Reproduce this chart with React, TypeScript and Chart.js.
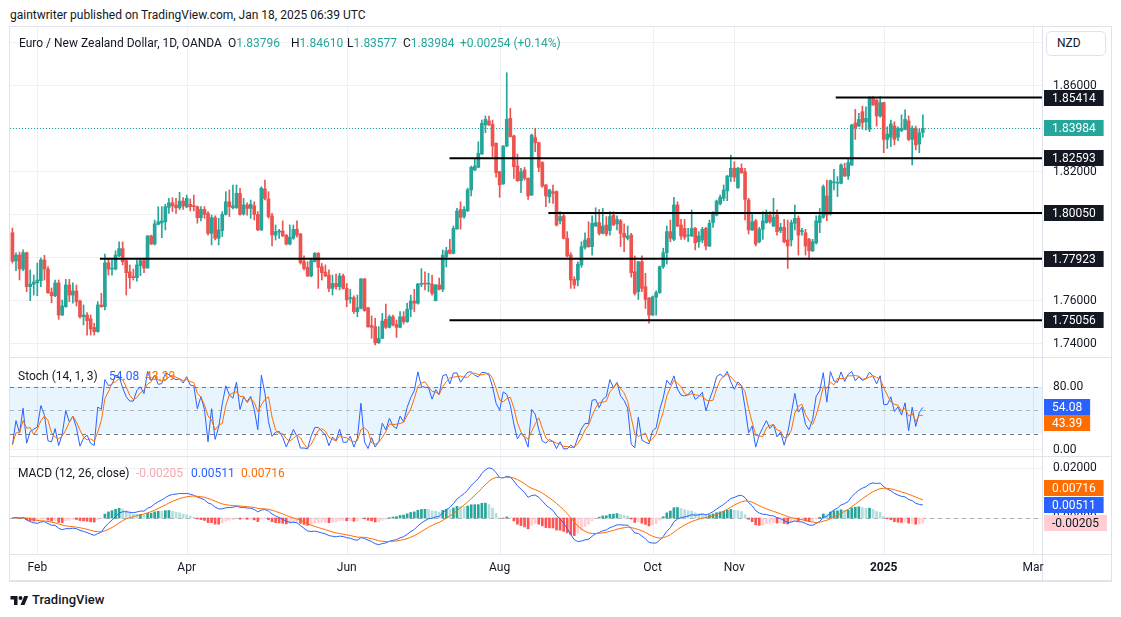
import React, { useEffect, useRef } from 'react';
import { Chart, registerables } from 'chart.js';

Chart.register(...registerables);

// ---- daily EUR/NZD candles, bar index -7 (22 Jan 2024) .. 249 (17 Jan 2025) ----
const FIRST_BAR = -7;
const OPEN = [
  1.7913, 1.7781, 1.7809, 1.7744, 1.7820, 1.7662, 1.7673, 1.7680, 1.7690, 1.7786,
  1.7744, 1.7636, 1.7620, 1.7679, 1.7530, 1.7569, 1.7670, 1.7623, 1.7642, 1.7595,
  1.7522, 1.7530, 1.7512, 1.7472, 1.7453, 1.7577, 1.7569, 1.7773, 1.7744, 1.7744,
  1.7806, 1.7839, 1.7783, 1.7731, 1.7709, 1.7704, 1.7760, 1.7783, 1.7749, 1.7898,
  1.7860, 1.7952, 1.7958, 1.7964, 1.8031, 1.8052, 1.8042, 1.8029, 1.8060, 1.8033,
  1.8045, 1.8038, 1.8034, 1.7983, 1.8021, 1.8003, 1.7910, 1.7983, 1.7887, 1.7923,
  1.7998, 1.8057, 1.8029, 1.8029, 1.8096, 1.8000, 1.8042, 1.8026, 1.8038, 1.7998,
  1.7926, 1.8116, 1.8070, 1.7991, 1.7902, 1.7916, 1.7921, 1.7902, 1.7860, 1.7887,
  1.7929, 1.7907, 1.7778, 1.7752, 1.7712, 1.7778, 1.7817, 1.7755, 1.7730, 1.7716,
  1.7654, 1.7677, 1.7662, 1.7712, 1.7654, 1.7606, 1.7611, 1.7546, 1.7561, 1.7698,
  1.7564, 1.7481, 1.7476, 1.7401, 1.7422, 1.7510, 1.7473, 1.7522, 1.7487, 1.7473,
  1.7522, 1.7499, 1.7557, 1.7595, 1.7585, 1.7673, 1.7679, 1.7674, 1.7674, 1.7597,
  1.7670, 1.7650, 1.7801, 1.7833, 1.7817, 1.7930, 1.8021, 1.7988, 1.8015, 1.8112,
  1.8205, 1.8217, 1.8279, 1.8414, 1.8433, 1.8417, 1.8329, 1.8197, 1.8140, 1.8316,
  1.8445, 1.8363, 1.8223, 1.8155, 1.8205, 1.8166, 1.8088, 1.8355, 1.8332, 1.8239,
  1.8135, 1.8080, 1.8104, 1.8104, 1.7968, 1.7991, 1.7887, 1.7809, 1.7696, 1.7693,
  1.7763, 1.7845, 1.7887, 1.7848, 1.7944, 1.7960, 1.7910, 1.7949, 1.7923, 1.7995,
  1.7954, 1.7968, 1.7910, 1.7887, 1.7902, 1.7731, 1.7639, 1.7778, 1.7662, 1.7608,
  1.7530, 1.7613, 1.7634, 1.7755, 1.7820, 1.7918, 1.7882, 1.8042, 1.7949, 1.7933,
  1.7898, 1.7898, 1.7933, 1.7871, 1.7879, 1.7933, 1.7851, 1.7960, 1.7995, 1.8047,
  1.8073, 1.8108, 1.8174, 1.8213, 1.8122, 1.8213, 1.8197, 1.8065, 1.7926, 1.7968,
  1.7871, 1.7929, 1.7960, 1.7995, 1.7944, 1.7995, 1.7923, 1.7938, 1.7879, 1.7879,
  1.7957, 1.7980, 1.7918, 1.7913, 1.7882, 1.7829, 1.7866, 1.7960, 1.7985, 1.8084,
  1.8000, 1.8145, 1.8143, 1.8143, 1.8213, 1.8177, 1.8228, 1.8423, 1.8409, 1.8476,
  1.8429, 1.8394, 1.8538, 1.8530, 1.8456, 1.8518, 1.8347, 1.8357, 1.8409, 1.8357,
  1.8388, 1.8394, 1.8433, 1.8347, 1.8399, 1.8326, 1.83796,
];
const HIGH = [
  1.7935, 1.7819, 1.7823, 1.7833, 1.7823, 1.7740, 1.7716, 1.7772, 1.7795, 1.7808,
  1.7755, 1.7656, 1.7693, 1.7693, 1.7600, 1.7696, 1.7696, 1.7680, 1.7670, 1.7600,
  1.7577, 1.7541, 1.7530, 1.7492, 1.7592, 1.7631, 1.7814, 1.7793, 1.7786, 1.7829,
  1.7870, 1.7870, 1.7794, 1.7763, 1.7744, 1.7786, 1.7794, 1.7794, 1.7900, 1.7902,
  1.7972, 1.8034, 1.8034, 1.8045, 1.8073, 1.8076, 1.8073, 1.8101, 1.8076, 1.8088,
  1.8070, 1.8088, 1.8037, 1.8034, 1.8034, 1.8011, 1.7995, 1.7991, 1.7980, 1.8011,
  1.8104, 1.8112, 1.8135, 1.8135, 1.8120, 1.8073, 1.8052, 1.8065, 1.8057, 1.8011,
  1.8127, 1.8158, 1.8104, 1.8003, 1.7949, 1.7929, 1.7968, 1.7904, 1.7949, 1.7949,
  1.7968, 1.7910, 1.7805, 1.7778, 1.7794, 1.7821, 1.7821, 1.7770, 1.7763, 1.7740,
  1.7716, 1.7721, 1.7724, 1.7721, 1.7677, 1.7650, 1.7619, 1.7623, 1.7700, 1.7700,
  1.7566, 1.7526, 1.7515, 1.7476, 1.7538, 1.7581, 1.7530, 1.7530, 1.7507, 1.7546,
  1.7546, 1.7585, 1.7623, 1.7650, 1.7677, 1.7746, 1.7731, 1.7724, 1.7716, 1.7672,
  1.7702, 1.7833, 1.7845, 1.7882, 1.7944, 1.8026, 1.8057, 1.8034, 1.8120, 1.8223,
  1.8259, 1.8336, 1.8437, 1.8456, 1.8456, 1.8437, 1.8331, 1.8199, 1.8318, 1.8657,
  1.8492, 1.8367, 1.8279, 1.8213, 1.8217, 1.8168, 1.8372, 1.8399, 1.8334, 1.8244,
  1.8137, 1.8115, 1.8135, 1.8108, 1.8011, 1.8003, 1.7918, 1.7820, 1.7708, 1.7778,
  1.7871, 1.7913, 1.7964, 1.7991, 1.8029, 1.8021, 1.8026, 1.7988, 1.8011, 1.8011,
  1.7991, 1.7975, 1.7954, 1.7944, 1.7910, 1.7805, 1.7780, 1.7805, 1.7724, 1.7613,
  1.7619, 1.7643, 1.7758, 1.7841, 1.7944, 1.7972, 1.8078, 1.8057, 1.7975, 1.7975,
  1.7933, 1.8019, 1.7938, 1.7918, 1.7938, 1.7938, 1.7972, 1.8011, 1.8065, 1.8088,
  1.8135, 1.8179, 1.8274, 1.8243, 1.8217, 1.8233, 1.8213, 1.8073, 1.8003, 1.7975,
  1.7938, 1.8011, 1.8019, 1.8011, 1.8073, 1.8019, 1.7957, 1.7975, 1.7972, 1.7972,
  1.8042, 1.7991, 1.7933, 1.7929, 1.7887, 1.7882, 1.7991, 1.8026, 1.8135, 1.8158,
  1.8158, 1.8208, 1.8174, 1.8233, 1.8236, 1.8259, 1.8417, 1.8487, 1.8468, 1.8502,
  1.8499, 1.8546, 1.8546, 1.8533, 1.8546, 1.8520, 1.8406, 1.8437, 1.8429, 1.8406,
  1.8461, 1.8484, 1.8456, 1.8409, 1.8409, 1.8394, 1.84610,
];
const LOW = [
  1.7772, 1.7736, 1.7693, 1.7736, 1.7639, 1.7597, 1.7623, 1.7620, 1.7662, 1.7693,
  1.7631, 1.7587, 1.7615, 1.7510, 1.7528, 1.7566, 1.7592, 1.7585, 1.7572, 1.7515,
  1.7484, 1.7437, 1.7437, 1.7437, 1.7450, 1.7566, 1.7554, 1.7716, 1.7716, 1.7740,
  1.7801, 1.7763, 1.7623, 1.7654, 1.7693, 1.7688, 1.7713, 1.7727, 1.7747, 1.7858,
  1.7856, 1.7949, 1.7890, 1.7926, 1.8003, 1.8011, 1.8003, 1.8021, 1.8021, 1.8029,
  1.8014, 1.8014, 1.7957, 1.7968, 1.7980, 1.7902, 1.7856, 1.7879, 1.7856, 1.7895,
  1.7995, 1.7988, 1.8024, 1.8026, 1.7995, 1.7995, 1.7995, 1.7980, 1.7972, 1.7923,
  1.7923, 1.8065, 1.7980, 1.7851, 1.7879, 1.7887, 1.7895, 1.7856, 1.7856, 1.7882,
  1.7892, 1.7767, 1.7740, 1.7709, 1.7707, 1.7777, 1.7654, 1.7693, 1.7709, 1.7639,
  1.7623, 1.7650, 1.7647, 1.7650, 1.7569, 1.7585, 1.7538, 1.7522, 1.7559, 1.7548,
  1.7473, 1.7422, 1.7391, 1.7398, 1.7420, 1.7468, 1.7470, 1.7479, 1.7426, 1.7470,
  1.7488, 1.7496, 1.7522, 1.7546, 1.7581, 1.7662, 1.7647, 1.7639, 1.7623, 1.7595,
  1.7647, 1.7639, 1.7754, 1.7814, 1.7814, 1.7929, 1.7929, 1.7980, 1.8011, 1.8084,
  1.8201, 1.8216, 1.8277, 1.8378, 1.8412, 1.8267, 1.8171, 1.8078, 1.8138, 1.8313,
  1.8358, 1.8166, 1.8151, 1.8099, 1.8158, 1.8068, 1.8086, 1.8290, 1.8197, 1.8124,
  1.8034, 1.8052, 1.8049, 1.7944, 1.7954, 1.7884, 1.7801, 1.7654, 1.7654, 1.7665,
  1.7752, 1.7836, 1.7845, 1.7809, 1.7942, 1.7902, 1.7907, 1.7898, 1.7902, 1.7947,
  1.7926, 1.7848, 1.7825, 1.7879, 1.7706, 1.7623, 1.7603, 1.7639, 1.7561, 1.7492,
  1.7528, 1.7530, 1.7631, 1.7747, 1.7767, 1.7871, 1.7876, 1.7941, 1.7882, 1.7882,
  1.7871, 1.7895, 1.7833, 1.7845, 1.7866, 1.7833, 1.7848, 1.7938, 1.7991, 1.8042,
  1.8062, 1.8062, 1.8151, 1.8151, 1.8119, 1.8189, 1.7972, 1.7907, 1.7923, 1.7851,
  1.7866, 1.7882, 1.7957, 1.7957, 1.7941, 1.7902, 1.7913, 1.7866, 1.7747, 1.7851,
  1.7926, 1.7809, 1.7902, 1.7809, 1.7789, 1.7825, 1.7860, 1.7913, 1.7980, 1.7969,
  1.7995, 1.8112, 1.8081, 1.8140, 1.8174, 1.8161, 1.8225, 1.8347, 1.8406, 1.8394,
  1.8391, 1.8383, 1.8505, 1.8409, 1.8450, 1.8285, 1.8305, 1.8313, 1.8321, 1.8341,
  1.8383, 1.8391, 1.8341, 1.8228, 1.8298, 1.8285, 1.83577,
];
const CLOSE = [
  1.7781, 1.7809, 1.7744, 1.7820, 1.7662, 1.7674, 1.7684, 1.7693, 1.7786, 1.7744,
  1.7634, 1.7620, 1.7679, 1.7530, 1.7572, 1.7670, 1.7623, 1.7642, 1.7592, 1.7522,
  1.7530, 1.7504, 1.7465, 1.7453, 1.7577, 1.7569, 1.7773, 1.7744, 1.7749, 1.7809,
  1.7839, 1.7778, 1.7727, 1.7704, 1.7704, 1.7763, 1.7783, 1.7749, 1.7898, 1.7860,
  1.7954, 1.7964, 1.7968, 1.8034, 1.8052, 1.8038, 1.8029, 1.8060, 1.8038, 1.8073,
  1.8034, 1.8034, 1.7983, 1.8021, 1.7998, 1.7910, 1.7983, 1.7887, 1.7926, 1.7998,
  1.8057, 1.8034, 1.8038, 1.8096, 1.7998, 1.8042, 1.8026, 1.8045, 1.7998, 1.7926,
  1.8120, 1.8072, 1.7988, 1.7902, 1.7918, 1.7921, 1.7898, 1.7860, 1.7892, 1.7929,
  1.7902, 1.7773, 1.7747, 1.7712, 1.7783, 1.7817, 1.7752, 1.7727, 1.7712, 1.7654,
  1.7677, 1.7662, 1.7712, 1.7654, 1.7600, 1.7611, 1.7546, 1.7564, 1.7698, 1.7550,
  1.7476, 1.7473, 1.7401, 1.7422, 1.7502, 1.7473, 1.7522, 1.7484, 1.7473, 1.7522,
  1.7499, 1.7557, 1.7595, 1.7585, 1.7674, 1.7677, 1.7674, 1.7677, 1.7631, 1.7670,
  1.7650, 1.7809, 1.7829, 1.7817, 1.7933, 1.8014, 1.7984, 1.8021, 1.8112, 1.8217,
  1.8223, 1.8282, 1.8422, 1.8440, 1.8414, 1.8316, 1.8192, 1.8135, 1.8316, 1.8440,
  1.8360, 1.8220, 1.8155, 1.8197, 1.8166, 1.8084, 1.8367, 1.8332, 1.8217, 1.8130,
  1.8084, 1.8112, 1.8096, 1.7949, 1.7988, 1.7887, 1.7805, 1.7693, 1.7670, 1.7767,
  1.7848, 1.7879, 1.7848, 1.7957, 1.7960, 1.7910, 1.7944, 1.7907, 1.7988, 1.7949,
  1.7975, 1.7910, 1.7892, 1.7898, 1.7727, 1.7631, 1.7778, 1.7654, 1.7603, 1.7530,
  1.7615, 1.7634, 1.7755, 1.7820, 1.7918, 1.7887, 1.8042, 1.7944, 1.7898, 1.7892,
  1.7902, 1.7933, 1.7866, 1.7898, 1.7929, 1.7851, 1.7957, 1.8003, 1.8060, 1.8078,
  1.8112, 1.8177, 1.8213, 1.8171, 1.8213, 1.8192, 1.8068, 1.7926, 1.7964, 1.7860,
  1.7929, 1.7968, 1.8006, 1.7964, 1.7985, 1.7918, 1.7938, 1.7871, 1.7851, 1.7960,
  1.7980, 1.7902, 1.7923, 1.7851, 1.7829, 1.7871, 1.7968, 1.7991, 1.8127, 1.7995,
  1.8155, 1.8150, 1.8147, 1.8228, 1.8177, 1.8239, 1.8414, 1.8400, 1.8440, 1.8425,
  1.8445, 1.8538, 1.8507, 1.8456, 1.8518, 1.8347, 1.8372, 1.8419, 1.8347, 1.8399,
  1.8399, 1.8440, 1.8347, 1.8399, 1.8321, 1.8378, 1.83984,
];

// ---- axis / annotation values ----
const MONTH_TICKS = [0, 42, 87, 130, 173, 196, 238, 280];
const MONTH_LABELS = ['Feb', 'Apr', 'Jun', 'Aug', 'Oct', 'Nov', '2025', 'Mar'];
const PRICE_TICKS = [1.74, 1.76, 1.78, 1.8, 1.82, 1.84, 1.86, 1.88];
const STOCH_TICKS = [0, 80];
const MACD_TICKS = [0, 0.02];
const LEVEL_PRICES = [1.85414, 1.82593, 1.8005, 1.77923, 1.75056];
const LEVEL_FROM = [224.5, 115.9, 143.7, 17.6, 115.9];
const LAST_PRICE = 1.83984;
const STOCH_K_LAST = 54.08;
const STOCH_D_LAST = 43.39;
const MACD_LAST = 0.00511;
const SIGNAL_LAST = 0.00716;
const HIST_LAST = -0.00205;

const X_MIN = -7.68;
const X_MAX = 282.5;
const UP = '#26a69a';
const DOWN = '#ef5350';
const BLUE = '#2962ff';
const ORANGE = '#ff6d00';
const INK = '#131722';

// ---- indicators derived from the candles ----
const BAR_X = CLOSE.map((_, k) => FIRST_BAR + k);
function ema(src: number[], n: number): number[] {
  const a = 2 / (n + 1);
  const out: number[] = [];
  let e = src[0];
  src.forEach((v, k) => {
    e = k === 0 ? v : a * v + (1 - a) * e;
    out.push(e);
  });
  return out;
}
const STOCH_K = CLOSE.map((c, k) => {
  let hh = -Infinity;
  let ll = Infinity;
  for (let j = Math.max(0, k - 13); j <= k; j++) {
    hh = Math.max(hh, HIGH[j]);
    ll = Math.min(ll, LOW[j]);
  }
  return hh > ll ? (100 * (c - ll)) / (hh - ll) : 50;
});
const STOCH_D = STOCH_K.map((_, k) => {
  const w = STOCH_K.slice(Math.max(0, k - 2), k + 1);
  return w.reduce((s, v) => s + v, 0) / w.length;
});
const EMA12 = ema(CLOSE, 12);
const EMA26 = ema(CLOSE, 26);
const MACD = EMA12.map((v, k) => v - EMA26[k]);
const SIGNAL = ema(MACD, 9);
const HIST = MACD.map((v, k) => v - SIGNAL[k]);
const HIST_COLORS = HIST.map((h, k) => {
  const prev = k > 0 ? HIST[k - 1] : h;
  if (h >= 0) return prev < h ? '#26a69a' : '#b2dfdb';
  return prev < h ? '#ffcdd2' : '#ff5252';
});

type Tag = { value: number; text: string; bg: string; fg: string; dy?: number };
type Decor = {
  ticks: number[];
  digits: number;
  tags: Tag[];
  band?: boolean;
  zero?: boolean;
  timeAxis?: boolean;
  priceLine?: number;
};

function makeDecor(d: Decor) {
  return {
    id: 'decor',
    beforeDatasetsDraw(chart: any) {
      const { ctx, chartArea: a, scales } = chart;
      const x = scales.x;
      const y = scales.y;
      ctx.save();
      ctx.beginPath();
      ctx.rect(a.left, a.top, a.right - a.left, a.bottom - a.top);
      ctx.clip();
      ctx.lineWidth = 1;
      ctx.strokeStyle = '#eef0f4';
      MONTH_TICKS.forEach((v) => {
        const px = Math.round(x.getPixelForValue(v)) + 0.5;
        ctx.beginPath();
        ctx.moveTo(px, a.top);
        ctx.lineTo(px, a.bottom);
        ctx.stroke();
      });
      d.ticks.forEach((v) => {
        const py = Math.round(y.getPixelForValue(v)) + 0.5;
        ctx.beginPath();
        ctx.moveTo(a.left, py);
        ctx.lineTo(a.right, py);
        ctx.stroke();
      });
      if (d.band) {
        const y80 = y.getPixelForValue(80);
        const y20 = y.getPixelForValue(20);
        ctx.fillStyle = 'rgba(33,150,243,0.1)';
        ctx.fillRect(a.left, y80, a.right - a.left, y20 - y80);
        ctx.setLineDash([4, 4]);
        ctx.strokeStyle = '#787b86';
        [80, 20].forEach((v) => {
          const py = Math.round(y.getPixelForValue(v)) + 0.5;
          ctx.beginPath();
          ctx.moveTo(a.left, py);
          ctx.lineTo(a.right, py);
          ctx.stroke();
        });
        ctx.strokeStyle = 'rgba(120,123,134,0.5)';
        const p50 = Math.round(y.getPixelForValue(50)) + 0.5;
        ctx.beginPath();
        ctx.moveTo(a.left, p50);
        ctx.lineTo(a.right, p50);
        ctx.stroke();
      }
      if (d.zero) {
        ctx.setLineDash([4, 4]);
        ctx.strokeStyle = 'rgba(120,123,134,0.6)';
        const p0 = Math.round(y.getPixelForValue(0)) + 0.5;
        ctx.beginPath();
        ctx.moveTo(a.left, p0);
        ctx.lineTo(a.right, p0);
        ctx.stroke();
      }
      ctx.restore();
    },
    afterDatasetsDraw(chart: any) {
      if (d.priceLine === undefined) return;
      const { ctx, chartArea: a, scales } = chart;
      const py = Math.round(scales.y.getPixelForValue(d.priceLine)) + 0.5;
      ctx.save();
      ctx.setLineDash([1, 2]);
      ctx.strokeStyle = UP;
      ctx.lineWidth = 1;
      ctx.beginPath();
      ctx.moveTo(a.left, py);
      ctx.lineTo(a.right, py);
      ctx.stroke();
      ctx.restore();
    },
    afterDraw(chart: any) {
      const { ctx, chartArea: a, scales } = chart;
      const x = scales.x;
      const y = scales.y;
      ctx.save();
      ctx.strokeStyle = '#e0e3eb';
      ctx.lineWidth = 1;
      ctx.beginPath();
      ctx.moveTo(a.right + 0.5, 0);
      ctx.lineTo(a.right + 0.5, chart.height);
      ctx.stroke();
      ctx.font = '12px Roboto, sans-serif';
      ctx.textBaseline = 'middle';
      ctx.textAlign = 'left';
      ctx.fillStyle = INK;
      d.ticks.forEach((v) => {
        const py = y.getPixelForValue(v);
        if (py < a.top - 2 || py > a.bottom + 2) return;
        ctx.fillText(v.toFixed(d.digits), a.right + 11, py + 0.5);
      });
      d.tags.forEach((t) => {
        const py = Math.round(y.getPixelForValue(t.value) + (t.dy || 0));
        const tw = ctx.measureText(t.text).width;
        ctx.fillStyle = t.bg;
        ctx.beginPath();
        ctx.rect(a.right + 2, py - 8, tw + 16, 16);
        ctx.fill();
        ctx.fillStyle = t.fg;
        ctx.fillText(t.text, a.right + 10, py + 0.5);
      });
      if (d.timeAxis) {
        ctx.strokeStyle = '#e0e3eb';
        ctx.beginPath();
        ctx.moveTo(0, a.bottom + 0.5);
        ctx.lineTo(chart.width, a.bottom + 0.5);
        ctx.stroke();
        ctx.textAlign = 'center';
        ctx.fillStyle = INK;
        MONTH_TICKS.forEach((v, k) => {
          const lbl = MONTH_LABELS[k];
          ctx.font = (lbl === '2025' ? 'bold ' : '') + '12px Roboto, sans-serif';
          ctx.fillText(lbl, x.getPixelForValue(v), a.bottom + 14);
        });
      }
      ctx.restore();
    },
  };
}

function baseOptions(yMin: number, yMax: number, bottomPad: number): any {
  return {
    responsive: false,
    animation: false,
    events: [],
    layout: { padding: { left: 0, top: 0, right: 69, bottom: bottomPad } },
    plugins: { legend: { display: false }, tooltip: { enabled: false } },
    scales: {
      x: { type: 'linear', display: false, min: X_MIN, max: X_MAX, offset: false },
      y: { type: 'linear', display: false, min: yMin, max: yMax },
    },
  };
}

const CANDLE_COLORS = CLOSE.map((c, k) => (c >= OPEN[k] ? UP : DOWN));

export default function App() {
  const priceRef = useRef<HTMLCanvasElement>(null);
  const stochRef = useRef<HTMLCanvasElement>(null);
  const macdRef = useRef<HTMLCanvasElement>(null);

  useEffect(() => {
    const charts: Chart[] = [];
    const priceChart = new Chart(priceRef.current as HTMLCanvasElement, {
      type: 'bar',
      data: {
        datasets: [
          ...LEVEL_PRICES.map((p, k) => ({
            type: 'line',
            data: [
              { x: LEVEL_FROM[k], y: p },
              { x: X_MAX, y: p },
            ],
            borderColor: '#000000',
            borderWidth: 2,
            pointRadius: 0,
            order: 0,
          })),
          {
            type: 'bar',
            data: BAR_X.map((x, k) => ({ x, y: [OPEN[k], CLOSE[k]] })),
            backgroundColor: CANDLE_COLORS,
            barThickness: 3,
            minBarLength: 1,
            grouped: false,
            borderWidth: 0,
            order: 1,
          },
          {
            type: 'bar',
            data: BAR_X.map((x, k) => ({ x, y: [LOW[k], HIGH[k]] })),
            backgroundColor: CANDLE_COLORS,
            barThickness: 1,
            grouped: false,
            borderWidth: 0,
            order: 2,
          },
        ] as any,
      },
      options: baseOptions(1.73349, 1.88698, 0),
      plugins: [
        makeDecor({
          ticks: PRICE_TICKS,
          digits: 5,
          priceLine: LAST_PRICE,
          tags: [
            ...LEVEL_PRICES.map((p) => ({ value: p, text: p.toFixed(5), bg: INK, fg: '#ffffff' })),
            { value: LAST_PRICE, text: LAST_PRICE.toFixed(5), bg: UP, fg: '#ffffff' },
          ],
        }),
      ],
    } as any);
    charts.push(priceChart);

    const stochChart = new Chart(stochRef.current as HTMLCanvasElement, {
      type: 'line',
      data: {
        datasets: [
          {
            data: BAR_X.map((x, k) => ({ x, y: STOCH_D[k] })),
            borderColor: ORANGE,
            borderWidth: 1,
            pointRadius: 0,
            order: 0,
          },
          {
            data: BAR_X.map((x, k) => ({ x, y: STOCH_K[k] })),
            borderColor: BLUE,
            borderWidth: 1,
            pointRadius: 0,
            order: 1,
          },
        ],
      },
      options: baseOptions(-8.56, 116.7, 0),
      plugins: [
        makeDecor({
          ticks: STOCH_TICKS,
          digits: 2,
          band: true,
          tags: [
            { value: STOCH_K_LAST, text: STOCH_K_LAST.toFixed(2), bg: BLUE, fg: '#ffffff' },
            { value: STOCH_D_LAST, text: STOCH_D_LAST.toFixed(2), bg: ORANGE, fg: '#ffffff', dy: 8 },
          ],
        }),
      ],
    } as any);
    charts.push(stochChart);

    const macdChart = new Chart(macdRef.current as HTMLCanvasElement, {
      type: 'bar',
      data: {
        datasets: [
          {
            type: 'line',
            data: BAR_X.map((x, k) => ({ x, y: SIGNAL[k] })),
            borderColor: ORANGE,
            borderWidth: 1,
            pointRadius: 0,
            order: 0,
          },
          {
            type: 'line',
            data: BAR_X.map((x, k) => ({ x, y: MACD[k] })),
            borderColor: BLUE,
            borderWidth: 1,
            pointRadius: 0,
            order: 1,
          },
          {
            type: 'bar',
            data: BAR_X.map((x, k) => ({ x, y: HIST[k] })),
            backgroundColor: HIST_COLORS,
            barThickness: 2,
            grouped: false,
            borderWidth: 0,
            order: 2,
          },
        ] as any,
      },
      options: baseOptions(-0.01426, 0.02416, 27),
      plugins: [
        makeDecor({
          ticks: MACD_TICKS,
          digits: 5,
          zero: true,
          timeAxis: true,
          tags: [
            { value: SIGNAL_LAST, text: SIGNAL_LAST.toFixed(5), bg: ORANGE, fg: '#ffffff', dy: -12 },
            { value: MACD_LAST, text: MACD_LAST.toFixed(5), bg: BLUE, fg: '#ffffff' },
            { value: HIST_LAST, text: HIST_LAST.toFixed(5), bg: '#ffcdd2', fg: INK },
          ],
        }),
      ],
    } as any);
    charts.push(macdChart);

    return () => charts.forEach((c) => c.destroy());
  }, []);

  const txt: React.CSSProperties = {
    position: 'absolute',
    fontSize: 12,
    lineHeight: '14px',
    whiteSpace: 'nowrap',
  };
  const teal = { color: UP };

  return (
    <div
      style={{
        position: 'fixed',
        left: 0,
        top: 0,
        width: 1121,
        height: 617,
        background: '#ffffff',
        fontFamily: 'Roboto, sans-serif',
        color: INK,
        overflow: 'hidden',
      }}
    >
      <div style={{ ...txt, left: 10, top: 8 }}>
        gaintwriter published on TradingView.com, Jan 18, 2025 06:39 UTC
      </div>

      <canvas ref={priceRef} width={1101} height={330} style={{ position: 'absolute', left: 10, top: 27, width: 1101, height: 330 }} />
      <canvas ref={stochRef} width={1101} height={98} style={{ position: 'absolute', left: 10, top: 358, width: 1101, height: 98 }} />
      <canvas ref={macdRef} width={1101} height={124} style={{ position: 'absolute', left: 10, top: 457, width: 1101, height: 124 }} />

      <div style={{ position: 'absolute', left: 10, top: 357, width: 1101, height: 1, background: '#e0e3eb' }} />
      <div style={{ position: 'absolute', left: 10, top: 456, width: 1101, height: 1, background: '#e0e3eb' }} />
      <div
        style={{
          position: 'absolute',
          left: 9,
          top: 26,
          width: 1103,
          height: 556,
          boxSizing: 'border-box',
          border: '1px solid #e0e3eb',
          borderBottom: '2px solid #e0e3eb',
          pointerEvents: 'none',
        }}
      />

      <div style={{ ...txt, left: 19, top: 36 }}>Euro / New Zealand Dollar, 1D, OANDA</div>
      <div style={{ ...txt, left: 228, top: 36 }}>O<span style={teal}>1.83796</span></div>
      <div style={{ ...txt, left: 291, top: 36 }}>H<span style={teal}>1.84610</span></div>
      <div style={{ ...txt, left: 347, top: 36 }}>L<span style={teal}>1.83577</span></div>
      <div style={{ ...txt, left: 403, top: 36 }}>C<span style={teal}>1.83984</span></div>
      <div style={{ ...txt, left: 460, top: 36, ...teal }}>+0.00254 (+0.14%)</div>

      <div style={{ ...txt, left: 18, top: 369 }}>Stoch (14, 1, 3)</div>
      <div style={{ ...txt, left: 109, top: 369, color: BLUE }}>54.08</div>
      <div style={{ ...txt, left: 145, top: 369, color: ORANGE }}>43.39</div>

      <div style={{ ...txt, left: 18, top: 466 }}>MACD (12, 26, close)</div>
      <div style={{ ...txt, left: 136, top: 466, color: '#f7a8b0' }}>-0.00205</div>
      <div style={{ ...txt, left: 191, top: 466, color: BLUE }}>0.00511</div>
      <div style={{ ...txt, left: 241, top: 466, color: ORANGE }}>0.00716</div>

      <div
        style={{
          position: 'absolute',
          left: 1046,
          top: 31,
          width: 60,
          height: 25,
          boxSizing: 'border-box',
          border: '1px solid #e0e3eb',
          borderRadius: 5,
          background: '#ffffff',
          fontSize: 12,
          lineHeight: '23px',
          paddingLeft: 10,
        }}
      >
        NZD
      </div>

      <svg style={{ position: 'absolute', left: 10, top: 596 }} width={19} height={9} viewBox="0 4 36 18">
        <path d="M14 22H7V11H0V4h14v18zM28 22h-8l7.5-18h8L28 22z" fill={INK} />
        <circle cx="20" cy="8" r="4" fill={INK} />
      </svg>
      <div style={{ ...txt, left: 32, top: 593, fontSize: 13, fontWeight: 500 }}>TradingView</div>
    </div>
  );
}
